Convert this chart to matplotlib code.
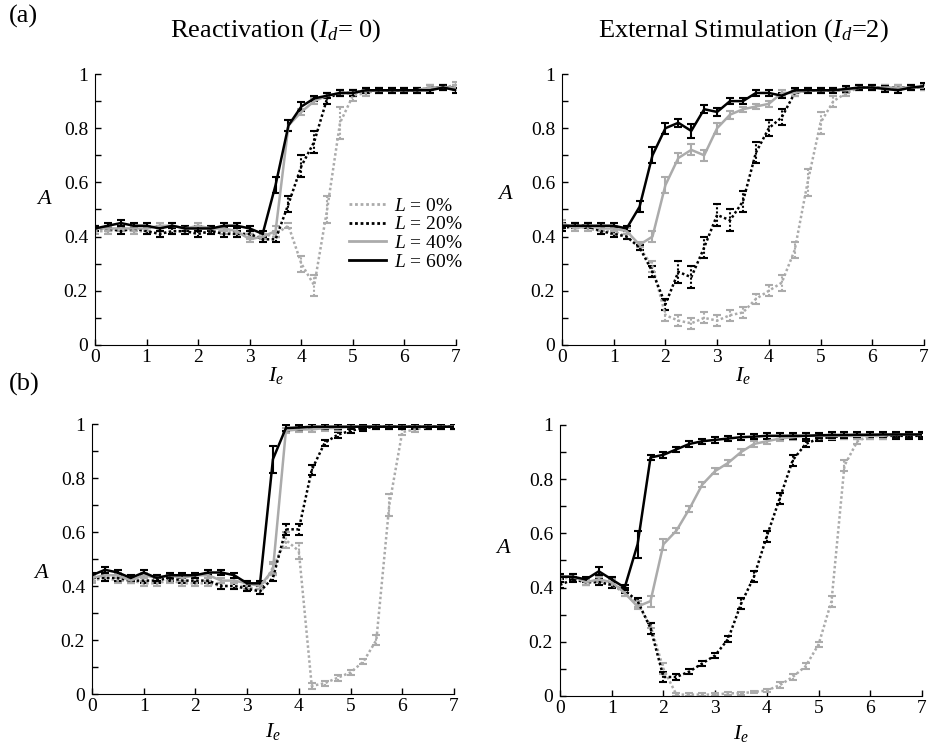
import numpy as np
import matplotlib.pyplot as plt
from matplotlib.lines import Line2D
from matplotlib.ticker import MultipleLocator, FixedLocator, FixedFormatter

plt.rcParams['font.family'] = 'Liberation Serif'
plt.rcParams['mathtext.fontset'] = 'custom'
plt.rcParams['mathtext.rm'] = 'Liberation Serif'
plt.rcParams['mathtext.it'] = 'Liberation Serif:italic'

# common stimulus grid
ie = np.linspace(0, 7, 29)

# (a) Reactivation, Id = 0
a0_L0 = [0.42,0.42,0.43,0.42,0.42,0.41,0.42,0.42,0.41,0.42,0.42,0.41,0.40,0.40,0.41,0.44,0.30,0.22,0.50,0.82,0.92,0.93,0.94,0.94,0.94,0.94,0.95,0.95,0.96]
a0_L20 = [0.43,0.43,0.42,0.43,0.42,0.41,0.42,0.42,0.41,0.42,0.41,0.41,0.41,0.39,0.39,0.52,0.66,0.75,0.91,0.93,0.93,0.94,0.94,0.94,0.94,0.94,0.95,0.95,0.95]
a0_L40 = [0.43,0.43,0.43,0.43,0.43,0.44,0.44,0.43,0.44,0.43,0.43,0.42,0.39,0.40,0.42,0.81,0.86,0.90,0.92,0.93,0.93,0.94,0.94,0.94,0.94,0.94,0.95,0.95,0.95]
a0_L60 = [0.43,0.44,0.45,0.44,0.44,0.43,0.44,0.43,0.43,0.43,0.44,0.44,0.43,0.41,0.59,0.81,0.88,0.91,0.92,0.93,0.93,0.94,0.94,0.94,0.94,0.94,0.94,0.95,0.94]
a0_L0_e = [.01,.01,.01,.01,.01,.01,.01,.01,.01,.01,.01,.01,.01,.01,.01,.01,.03,.04,.05,.06,.02,.01,.01,.01,.01,.01,.01,.01,.01]
a0_L20_e = [.01,.01,.01,.01,.01,.01,.01,.01,.01,.01,.01,.01,.01,.01,.01,.03,.04,.04,.02,.01,.01,.01,.01,.01,.01,.01,.01,.01,.01]
a0_L40_e = [.01,.01,.01,.01,.01,.01,.01,.01,.01,.01,.01,.01,.01,.01,.02,.02,.01,.01,.01,.01,.01,.01,.01,.01,.01,.01,.01,.01,.01]
a0_L60_e = [.01,.01,.01,.01,.01,.01,.01,.01,.01,.01,.01,.01,.01,.01,.03,.02,.015,.01,.01,.01,.01,.01,.01,.01,.01,.01,.01,.01,.01]

# (a) External stimulation, Id = 2
a2_L0 = [0.44,0.44,0.43,0.42,0.42,0.40,0.36,0.29,0.11,0.09,0.08,0.10,0.09,0.11,0.12,0.17,0.20,0.23,0.35,0.60,0.82,0.90,0.93,0.95,0.95,0.95,0.95,0.95,0.95]
a2_L20 = [0.43,0.44,0.44,0.42,0.41,0.40,0.36,0.27,0.15,0.27,0.25,0.36,0.48,0.46,0.53,0.71,0.80,0.84,0.93,0.94,0.94,0.94,0.94,0.95,0.95,0.95,0.95,0.95,0.95]
a2_L40 = [0.45,0.43,0.44,0.43,0.43,0.42,0.37,0.40,0.59,0.69,0.72,0.70,0.80,0.85,0.87,0.88,0.89,0.93,0.93,0.94,0.94,0.94,0.94,0.95,0.95,0.95,0.95,0.95,0.95]
a2_L60 = [0.44,0.44,0.44,0.44,0.44,0.43,0.51,0.70,0.80,0.82,0.79,0.87,0.86,0.90,0.90,0.93,0.93,0.92,0.94,0.94,0.94,0.94,0.945,0.95,0.95,0.945,0.94,0.95,0.955]
a2_L0_e = [.01,.01,.01,.01,.01,.01,.01,.02,.02,.02,.02,.02,.02,.02,.02,.02,.02,.03,.03,.05,.04,.02,.01,.01,.01,.01,.01,.01,.01]
a2_L20_e = [.01,.01,.01,.01,.01,.01,.01,.02,.02,.04,.04,.04,.04,.04,.04,.04,.03,.03,.01,.01,.01,.01,.01,.01,.01,.01,.01,.01,.01]
a2_L40_e = [.01,.01,.01,.01,.01,.01,.01,.02,.03,.02,.02,.02,.02,.015,.01,.01,.01,.01,.01,.01,.01,.01,.01,.01,.01,.01,.01,.01,.01]
a2_L60_e = [.01,.01,.01,.01,.01,.01,.02,.03,.02,.015,.025,.015,.015,.01,.01,.01,.01,.01,.01,.01,.01,.01,.01,.01,.01,.01,.01,.01,.01]

# (b) Reactivation, Id = 0
b0_L0 = [0.42,0.43,0.42,0.42,0.41,0.41,0.42,0.41,0.41,0.41,0.40,0.40,0.40,0.38,0.47,0.57,0.53,0.03,0.04,0.06,0.08,0.12,0.20,0.70,0.97,0.98,0.99,0.99,0.99]
b0_L20 = [0.43,0.43,0.43,0.42,0.42,0.42,0.43,0.42,0.42,0.42,0.40,0.40,0.39,0.38,0.43,0.61,0.61,0.83,0.93,0.96,0.975,0.985,0.99,0.99,0.99,0.99,0.99,0.99,0.99]
b0_L40 = [0.43,0.44,0.44,0.42,0.44,0.43,0.44,0.43,0.44,0.44,0.42,0.42,0.41,0.40,0.46,0.975,0.98,0.98,0.985,0.985,0.99,0.99,0.99,0.99,0.99,0.99,0.99,0.99,0.99]
b0_L60 = [0.44,0.46,0.45,0.43,0.45,0.43,0.44,0.44,0.44,0.45,0.45,0.44,0.41,0.41,0.87,0.985,0.987,0.99,0.99,0.99,0.99,0.99,0.99,0.99,0.99,0.99,0.99,0.99,0.99]
b0_L0_e = [.01,.01,.01,.01,.01,.01,.01,.01,.01,.01,.01,.01,.01,.01,.02,.03,.03,.01,.01,.01,.01,.01,.02,.04,.01,.01,.01,.01,.01]
b0_L20_e = [.01,.01,.01,.01,.01,.01,.01,.01,.01,.01,.01,.01,.01,.01,.01,.02,.02,.02,.01,.01,.01,.01,.01,.01,.01,.01,.01,.01,.01]
b0_L40_e = [.01,.01,.01,.01,.01,.01,.01,.01,.01,.01,.01,.01,.01,.01,.02,.01,.01,.01,.01,.01,.01,.01,.01,.01,.01,.01,.01,.01,.01]
b0_L60_e = [.01,.01,.01,.01,.01,.01,.01,.01,.01,.01,.01,.01,.01,.01,.05,.01,.01,.01,.01,.01,.01,.01,.01,.01,.01,.01,.01,.01,.01]

# (b) External stimulation, Id = 2
b2_L0 = [0.43,0.44,0.42,0.42,0.41,0.38,0.34,0.26,0.10,0.005,0.005,0.005,0.005,0.01,0.01,0.015,0.02,0.04,0.07,0.11,0.19,0.35,0.85,0.94,0.96,0.96,0.96,0.96,0.96]
b2_L20 = [0.41,0.43,0.42,0.42,0.41,0.39,0.35,0.25,0.07,0.07,0.09,0.12,0.15,0.21,0.34,0.44,0.59,0.73,0.87,0.93,0.95,0.955,0.96,0.96,0.96,0.96,0.96,0.96,0.96]
b2_L40 = [0.44,0.44,0.42,0.43,0.42,0.38,0.33,0.35,0.56,0.61,0.69,0.78,0.83,0.86,0.90,0.93,0.94,0.95,0.955,0.96,0.96,0.96,0.96,0.96,0.96,0.96,0.965,0.965,0.965]
b2_L60 = [0.44,0.44,0.43,0.46,0.43,0.40,0.56,0.88,0.89,0.91,0.93,0.94,0.945,0.95,0.955,0.957,0.96,0.96,0.96,0.96,0.962,0.963,0.963,0.964,0.964,0.965,0.965,0.965,0.965]
b2_L0_e = [.01,.01,.01,.01,.01,.01,.01,.01,.02,.005,.005,.005,.005,.005,.005,.005,.005,.01,.01,.01,.01,.02,.02,.01,.01,.01,.01,.01,.01]
b2_L20_e = [.01,.01,.01,.01,.01,.01,.01,.02,.02,.01,.01,.01,.01,.01,.02,.02,.02,.02,.02,.01,.01,.01,.01,.01,.01,.01,.01,.01,.01]
b2_L40_e = [.01,.01,.01,.01,.01,.01,.01,.02,.02,.01,.01,.01,.01,.01,.01,.01,.01,.01,.01,.01,.01,.01,.01,.01,.01,.01,.01,.01,.01]
b2_L60_e = [.01,.01,.01,.015,.01,.01,.05,.01,.01,.01,.01,.01,.01,.01,.01,.01,.01,.01,.01,.01,.01,.01,.01,.01,.01,.01,.01,.01,.01]

labels = ['$L$ = 0%', '$L$ = 20%', '$L$ = 40%', '$L$ = 60%']
gray = '#ababab'
dots = (0, (1, 1))
styles = [(gray, dots), ('black', dots), (gray, '-'), ('black', '-')]

panels = [
    ([a0_L0, a0_L20, a0_L40, a0_L60], [a0_L0_e, a0_L20_e, a0_L40_e, a0_L60_e]),
    ([a2_L0, a2_L20, a2_L40, a2_L60], [a2_L0_e, a2_L20_e, a2_L40_e, a2_L60_e]),
    ([b0_L0, b0_L20, b0_L40, b0_L60], [b0_L0_e, b0_L20_e, b0_L40_e, b0_L60_e]),
    ([b2_L0, b2_L20, b2_L40, b2_L60], [b2_L0_e, b2_L20_e, b2_L40_e, b2_L60_e]),
]
rects = [
    [0.1022, 0.5394, 0.3882, 0.3618],
    [0.6043, 0.5394, 0.3892, 0.3618],
    [0.0989, 0.0734, 0.3892, 0.3605],
    [0.6022, 0.0708, 0.3892, 0.3618],
]
ylab_pos = [(-0.139, 0.50), (-0.157, 0.52), (-0.14, 0.41), (-0.157, 0.51)]
xlab_y = [-0.075, -0.075, -0.10, -0.10]

fig = plt.figure(figsize=(9.3, 7.49), dpi=100)
axes = []
for k, ((series, errs), rect) in enumerate(zip(panels, rects)):
    ax = fig.add_axes(rect)
    axes.append(ax)
    for y, e, (c, ls) in zip(series, errs, styles):
        eb = ax.errorbar(ie, y, yerr=e, color=c, ls=ls, lw=1.8, elinewidth=1.5,
                         capsize=3, capthick=1.5)
        if ls != '-':
            eb[2][0].set_linestyle(dots)
    ax.set_xlim(0, 7)
    ax.set_ylim(0, 1)
    ax.spines['top'].set_visible(False)
    ax.spines['right'].set_visible(False)
    ax.xaxis.set_major_locator(MultipleLocator(1))
    ax.yaxis.set_major_locator(FixedLocator([0, 0.2, 0.4, 0.6, 0.8, 1.0]))
    ax.yaxis.set_major_formatter(FixedFormatter(['0', '0.2', '0.4', '0.6', '0.8', '1']))
    ax.yaxis.set_minor_locator(MultipleLocator(0.1))
    ax.tick_params(which='both', direction='in', length=4, width=1, labelsize=14)
    ax.tick_params(axis='y', which='both', pad=5)
    ax.tick_params(axis='x', pad=3)
    ax.set_ylabel('$A$', rotation=0, fontsize=16)
    ax.yaxis.set_label_coords(*ylab_pos[k])
    ax.set_xlabel('$I_e$', fontsize=16)
    ax.xaxis.set_label_coords(0.5, xlab_y[k])

handles = [Line2D([], [], color=c, ls=ls, lw=2) for c, ls in styles]
axes[0].legend(handles, labels, loc='center right', bbox_to_anchor=(1.02, 0.41),
               frameon=False, fontsize=14, handlelength=1.9, handletextpad=0.45,
               labelspacing=0.05, borderaxespad=0, borderpad=0)

axes[0].set_title('Reactivation ($I_d$= 0)', fontsize=19, pad=27)
axes[1].set_title('External Stimulation ($I_d$=2)', fontsize=19, pad=27)
fig.text(0.010, 0.978, '(a)', fontsize=19, va='center', ha='left')
fig.text(0.010, 0.487, '(b)', fontsize=19, va='center', ha='left')

fig.savefig('out.png', dpi=100)
